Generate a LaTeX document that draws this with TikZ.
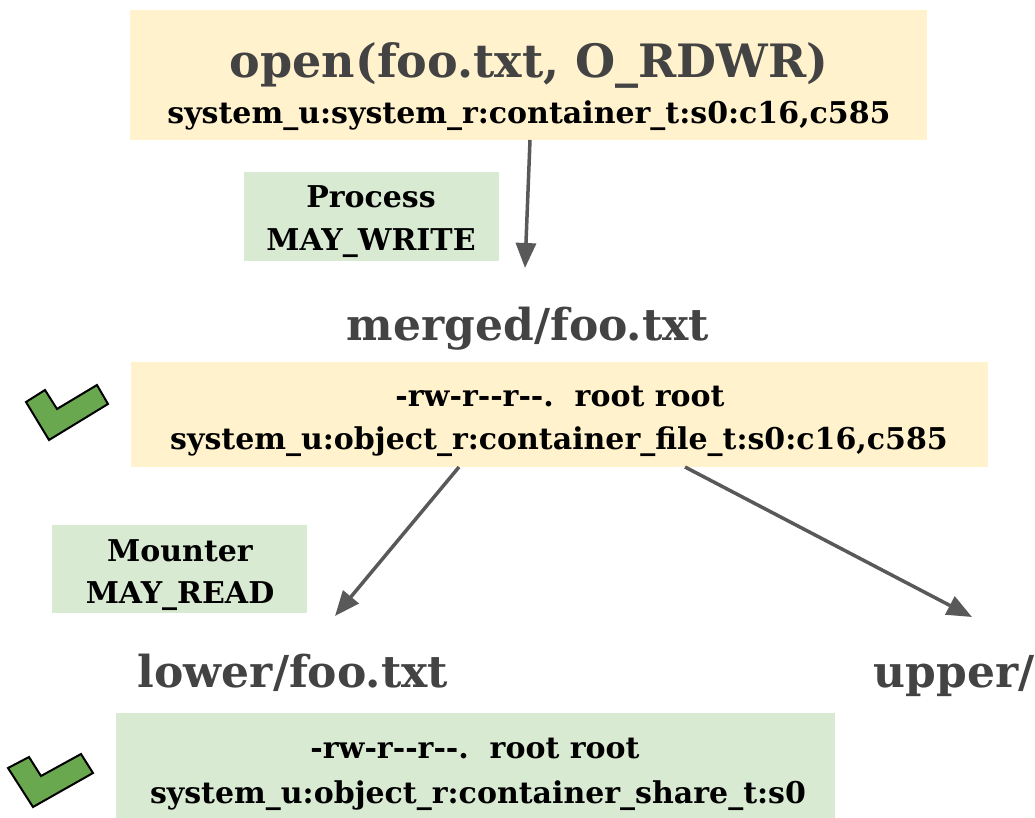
\documentclass[tikz,border=0pt]{standalone}
\usepackage{fontspec}
\setmainfont{DejaVu Serif}
\usetikzlibrary{arrows.meta}
\definecolor{ylw}{HTML}{FFF2CC}
\definecolor{grn}{HTML}{D9EAD3}
\definecolor{chk}{HTML}{6AA84F}
\definecolor{arr}{HTML}{595959}
\definecolor{ttl}{HTML}{434343}
\tikzset{
  conn/.style={draw=arr, line width=3.5pt, -{Triangle[length=25pt,width=20pt]}},
  big/.style={text=ttl, font=\bfseries\fontsize{44}{50}\selectfont},
  lbl/.style={text=black, font=\bfseries\fontsize{30}{32}\selectfont},
  check/.style={fill=chk, draw=black, line width=2pt, line join=miter},
}
\begin{document}
\begin{tikzpicture}[x=1pt,y=-1pt]
\useasboundingbox (0,0) rectangle (1035,818);
% boxes
\fill[ylw] (130,10) rectangle (927,140);
\fill[grn] (244,172) rectangle (499,261);
\fill[ylw] (131,362) rectangle (988,467);
\fill[grn] (52,525) rectangle (307,613);
\fill[grn] (116,713) rectangle (835,818);
% texts
\node[big,anchor=base,font=\bfseries\fontsize{46}{52}\selectfont] (open) at (529,78) {open(foo.txt, O\_RDWR)};
\node[lbl,anchor=base] (ctx) at (529,124) {system\_u:system\_r:container\_t:s0:c16,c585};
\node[lbl,anchor=base,align=center] (proc) at (371,208) {Process};
\node[lbl,anchor=base] (pw) at (371,251) {MAY\_WRITE};
\node[big,anchor=base] (merged) at (528,340) {merged/foo.txt};
\node[lbl,anchor=base] (mperm) at (560,406) {-rw-r-{}-r-{}-.\ \ root root};
\node[lbl,anchor=base] (mctx) at (559,449) {system\_u:object\_r:container\_file\_t:s0:c16,c585};
\node[lbl,anchor=base] (mnt) at (180,561) {Mounter};
\node[lbl,anchor=base] (mr) at (180,603) {MAY\_READ};
\node[big,anchor=base] (lower) at (293,687) {lower/foo.txt};
\node[big,anchor=base west] (upper) at (870,687) {upper/};
\node[lbl,anchor=base] (lperm) at (475,758) {-rw-r-{}-r-{}-.\ \ root root};
\node[lbl,anchor=base] (lctx) at (478,803) {system\_u:object\_r:container\_share\_t:s0};
% connector end points
\coordinate (a1) at (530,140);
\coordinate (a2) at (525,268);
\coordinate (b1) at (459,467);
\coordinate (b2) at (335,616);
\coordinate (c1) at (685,467);
\coordinate (c2) at (972,617);
\draw[conn] (a1) -- (a2);
\draw[conn] (b1) -- (b2);
\draw[conn] (c1) -- (c2);
% checkmarks
\draw[check] (26,402) -- (45,390) -- (57,409) -- (97,385) -- (108,404) -- (49,440) -- cycle;
\draw[check] (8,768) -- (29,757) -- (41,776) -- (81,754) -- (93,773) -- (33,807) -- cycle;
\end{tikzpicture}
\end{document}
